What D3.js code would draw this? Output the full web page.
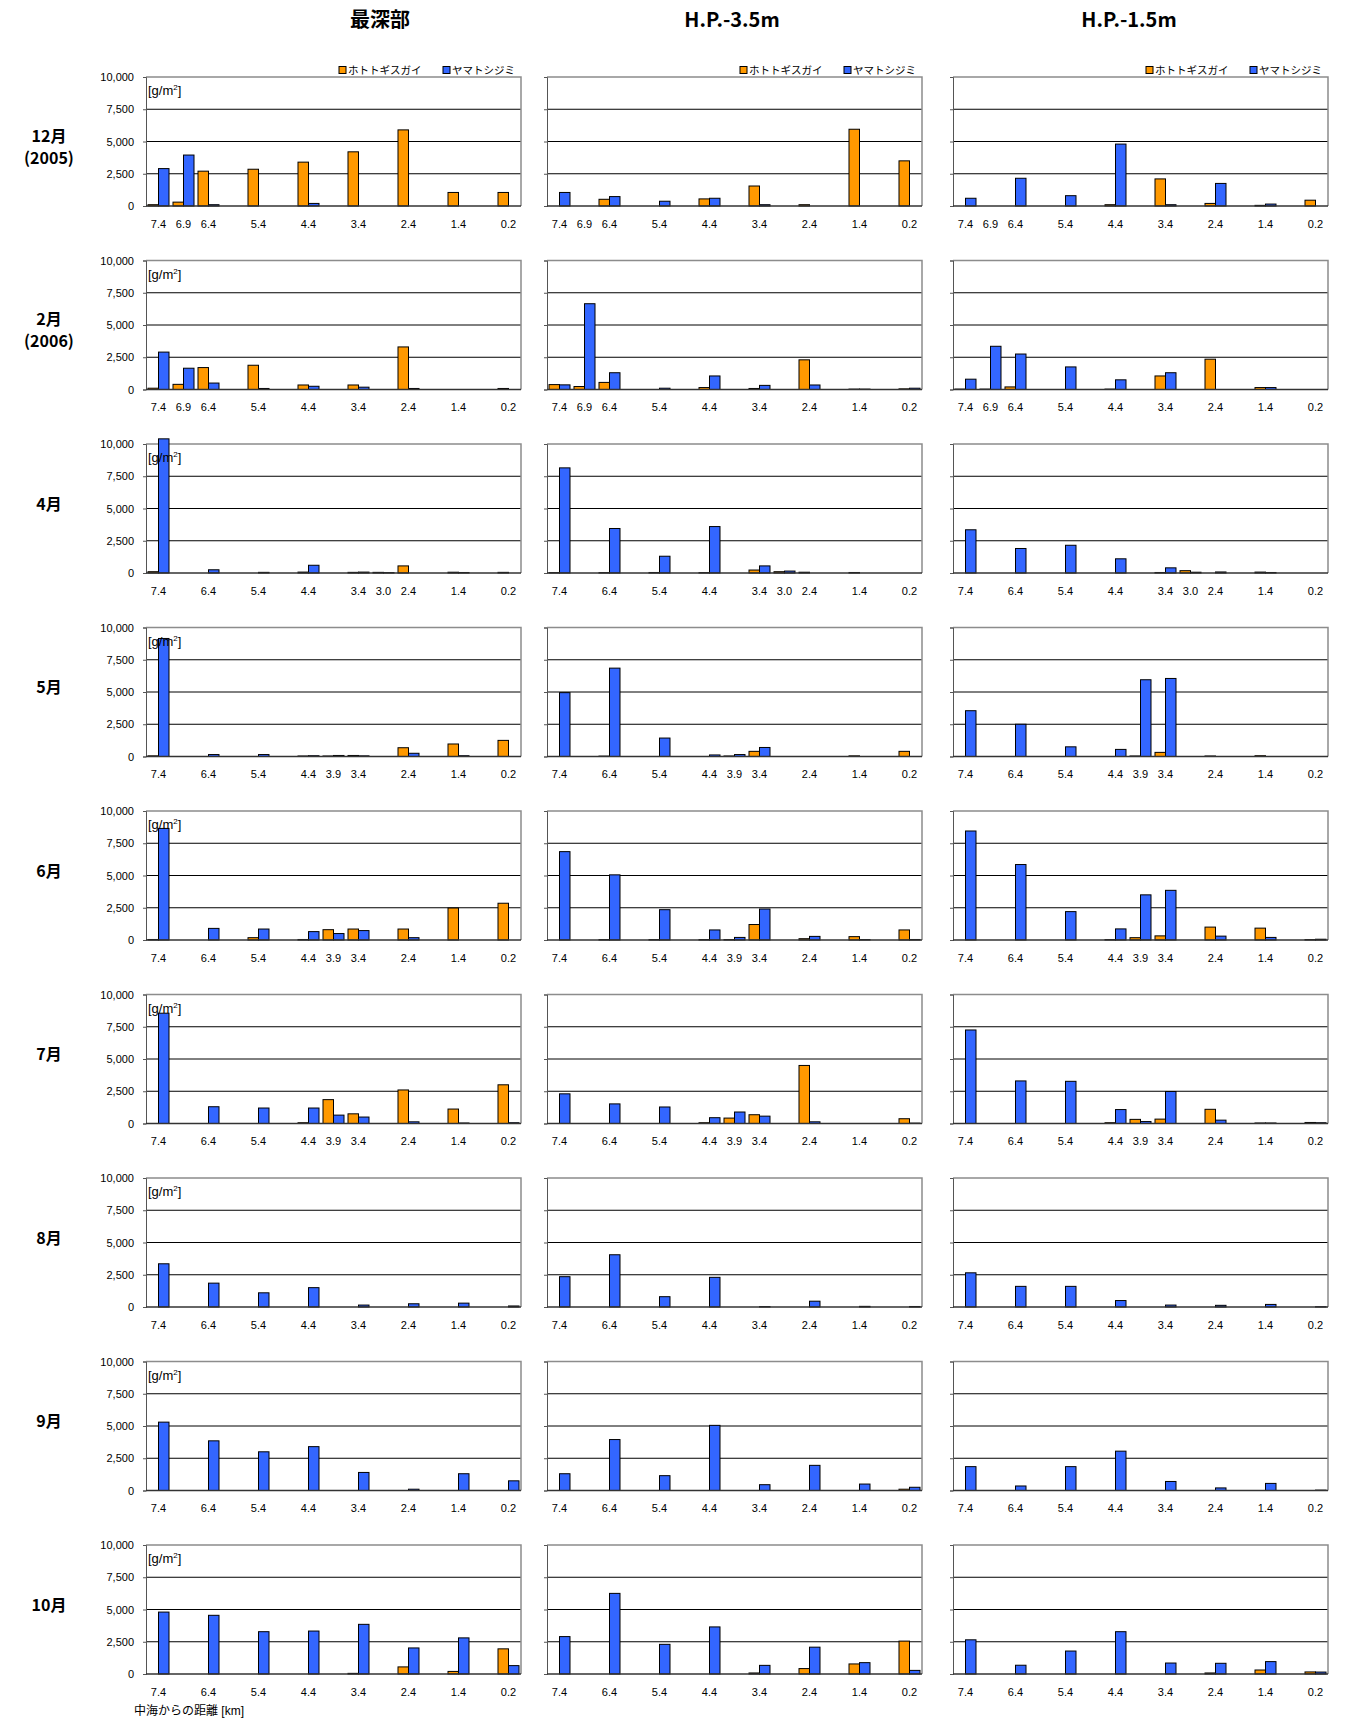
<!DOCTYPE html>
<html>
<head>
<meta charset="utf-8">
<script src="https://cdn.jsdelivr.net/npm/d3@7"></script>
<style>
  body { margin: 0; background: #fff; }
  svg text { font-family: "Liberation Sans", Arial, "Noto Sans CJK JP", sans-serif; }
</style>
</head>
<body>
<div class="chart"></div>
<script>
// distance slots on the x axis (half-km steps, blanks are unused slots)
const slots = ["7.4", "6.9", "6.4", "", "5.4", "", "4.4", "3.9", "3.4", "3.0", "2.4", "", "1.4", "", "0.2"];
const colTitles = ["最深部", "H.P.-3.5m", "H.P.-1.5m"];
const rowLabels = [["12月", "(2005)"], ["2月", "(2006)"], ["4月"], ["5月"], ["6月"], ["7月"], ["8月"], ["9月"], ["10月"]];
const seriesNames = ["ホトトギスガイ", "ヤマトシジミ"];
const yTicks = [0, 2500, 5000, 7500, 10000];

const stDec = ["7.4", "6.9", "6.4", "5.4", "4.4", "3.4", "2.4", "1.4", "0.2"];
const stApr = ["7.4", "6.4", "5.4", "4.4", "3.4", "3.0", "2.4", "1.4", "0.2"];
const stMay = ["7.4", "6.4", "5.4", "4.4", "3.9", "3.4", "2.4", "1.4", "0.2"];
const stAug = ["7.4", "6.4", "5.4", "4.4", "3.4", "2.4", "1.4", "0.2"];

// ホトトギスガイ / ヤマトシジミ, one inner array per column (最深部, -3.5m, -1.5m)
const hotoDec = [[100, 300, 2700, 2850, 3400, 4200, 5900, 1050, 1050], [0, 0, 520, 0, 550, 1550, 100, 5950, 3500], [0, 0, 0, 0, 100, 2100, 200, 50, 450]];
const yamaDec = [[2900, 3950, 100, 0, 200, 0, 0, 0, 0], [1050, 0, 730, 370, 600, 100, 0, 0, 0], [600, 0, 2150, 800, 4800, 100, 1750, 150, 0]];
const hotoFeb = [[100, 400, 1700, 1880, 350, 350, 3300, 0, 80], [380, 230, 550, 0, 150, 80, 2300, 30, 50], [30, 30, 200, 0, 30, 1050, 2350, 150, 0]];
const yamaFeb = [[2900, 1650, 500, 80, 250, 180, 80, 0, 0], [360, 6650, 1300, 100, 1050, 320, 350, 30, 100], [800, 3350, 2750, 1750, 750, 1300, 0, 150, 0]];
const hotoApr = [[100, 0, 0, 70, 50, 50, 550, 60, 50], [30, 30, 40, 30, 230, 100, 60, 40, 0], [0, 0, 0, 0, 40, 180, 0, 70, 0]];
const yamaApr = [[10400, 250, 50, 600, 70, 30, 0, 40, 0], [8150, 3450, 1300, 3600, 550, 150, 0, 0, 0], [3350, 1900, 2150, 1100, 400, 60, 80, 40, 0]];
const hotoMay = [[50, 0, 0, 40, 40, 80, 680, 970, 1250], [0, 30, 0, 0, 40, 400, 0, 50, 400], [0, 0, 0, 0, 40, 320, 40, 60, 0]];
const yamaMay = [[9150, 150, 150, 60, 80, 50, 250, 60, 0], [4950, 6850, 1430, 120, 150, 700, 0, 0, 0], [3550, 2500, 750, 550, 5950, 6050, 0, 0, 0]];
const hotoJun = [[40, 0, 180, 40, 800, 850, 850, 2480, 2850], [0, 30, 30, 30, 30, 1200, 100, 260, 780], [0, 0, 0, 30, 180, 320, 1000, 920, 30]];
const yamaJun = [[8650, 900, 850, 650, 500, 730, 180, 0, 0], [6850, 5050, 2350, 780, 200, 2400, 280, 30, 40], [8450, 5850, 2200, 860, 3500, 3850, 300, 200, 60]];
const hotoJul = [[0, 0, 0, 60, 1850, 750, 2600, 1120, 3000], [0, 0, 0, 60, 420, 680, 4500, 0, 370], [0, 0, 0, 60, 320, 340, 1100, 40, 80]];
const yamaJul = [[8550, 1300, 1200, 1200, 650, 500, 130, 40, 60], [2300, 1520, 1280, 450, 890, 570, 130, 0, 30], [7250, 3300, 3270, 1080, 150, 2480, 260, 40, 60]];
const hotoAug = [[0, 0, 0, 0, 0, 0, 0, 0], [0, 0, 0, 0, 0, 0, 0, 0], [0, 0, 0, 0, 0, 0, 0, 0]];
const yamaAug = [[3350, 1850, 1100, 1500, 150, 250, 300, 80], [2350, 4050, 800, 2300, 30, 450, 50, 40], [2650, 1600, 1600, 500, 150, 130, 200, 20]];
const hotoSep = [[0, 0, 0, 0, 0, 0, 0, 0], [0, 0, 0, 0, 0, 0, 0, 100], [0, 0, 0, 0, 0, 0, 0, 0]];
const yamaSep = [[5300, 3850, 3000, 3400, 1400, 100, 1300, 750], [1300, 3950, 1150, 5050, 450, 1950, 500, 250], [1850, 350, 1850, 3050, 700, 200, 550, 30]];
const hotoOct = [[0, 0, 0, 0, 50, 550, 200, 1950], [0, 0, 0, 0, 80, 420, 780, 2550], [0, 0, 0, 0, 0, 80, 310, 160]];
const yamaOct = [[4800, 4550, 3280, 3330, 3850, 2020, 2800, 650], [2900, 6250, 2300, 3650, 670, 2080, 880, 280], [2650, 680, 1780, 3280, 850, 830, 960, 150]];

const rows = [
  { st: stDec, hoto: hotoDec, yama: yamaDec },
  { st: stDec, hoto: hotoFeb, yama: yamaFeb },
  { st: stApr, hoto: hotoApr, yama: yamaApr },
  { st: stMay, hoto: hotoMay, yama: yamaMay },
  { st: stMay, hoto: hotoJun, yama: yamaJun },
  { st: stMay, hoto: hotoJul, yama: yamaJul },
  { st: stAug, hoto: hotoAug, yama: yamaAug },
  { st: stAug, hoto: hotoSep, yama: yamaSep },
  { st: stAug, hoto: hotoOct, yama: yamaOct }
];

const colors = ["#FF9900", "#3366FF"];
const colX = [146, 547, 953];
const titleX = [380, 732, 1129];
const plotW = 375, plotH = 129;
const rowY0 = 77, rowStep = 183.5;

const svg = d3.select(".chart").append("svg")
  .attr("width", 1354).attr("height", 1722)
  .style("background", "#fff");

const x = d3.scaleBand().domain(d3.range(slots.length)).range([0, plotW]);
const y = d3.scaleLinear().domain([0, 10000]).range([plotH, 0]);
const bw = x.bandwidth() * 0.42;
const slotOf = s => slots.indexOf(s);

// column titles
colTitles.forEach((t, c) => {
  svg.append("text")
    .attr("x", titleX[c]).attr("y", 27)
    .attr("text-anchor", "middle")
    .style("font-size", "20px").style("font-weight", "bold")
    .style("font-family", "'Noto Sans CJK JP', sans-serif")
    .text(t);
});

rows.forEach((row, r) => {
  const top = rowY0 + r * rowStep;

  // row label
  const lab = rowLabels[r];
  lab.forEach((t, i) => {
    svg.append("text")
      .attr("x", 49).attr("y", top + (lab.length == 2 ? 59 + i * 22 : 60))
      .attr("dy", "0.35em")
      .attr("text-anchor", "middle")
      .style("font-size", "16px").style("font-weight", "bold")
      .style("font-family", "'Noto Sans CJK JP', sans-serif")
      .text(t);
  });

  for (let c = 0; c < 3; c++) {
    const g = svg.append("g").attr("transform", `translate(${colX[c]},${top})`);

    // grid lines
    g.selectAll(".grid")
      .data([2500, 5000, 7500])
      .enter().append("line")
      .attr("x1", 0).attr("x2", plotW)
      .attr("y1", d => y(d)).attr("y2", d => y(d))
      .attr("stroke", "#000").attr("stroke-width", 1);

    // frame (top + right)
    g.append("path")
      .attr("d", `M0,${y(10000)}H${plotW}V${plotH}`)
      .attr("fill", "none").attr("stroke", "#8c8c8c").attr("stroke-width", 1.5);

    // y axis
    const ya = g.append("g")
      .call(d3.axisLeft(y).tickValues(yTicks).tickSize(3).tickPadding(9)
        .tickFormat(c == 0 ? d3.format(",") : ""));
    ya.select(".domain").attr("stroke", "#555");
    ya.selectAll(".tick line").attr("stroke", "#555");
    ya.selectAll("text").style("font-size", "11px").attr("fill", "#000");

    // x labels
    g.selectAll(".xl")
      .data(row.st)
      .enter().append("text")
      .attr("x", d => x(slotOf(d)) + x.bandwidth() / 2)
      .attr("y", plotH + 18).attr("dy", "0.35em")
      .attr("text-anchor", "middle")
      .style("font-size", "11px")
      .text(d => d);

    // bars
    const bars = [];
    row.st.forEach((s, i) => {
      const cx = x(slotOf(s)) + x.bandwidth() / 2;
      bars.push({ x: cx - bw, v: row.hoto[c][i], k: 0 });
      bars.push({ x: cx, v: row.yama[c][i], k: 1 });
    });
    g.selectAll(".bar")
      .data(bars.filter(d => d.v > 0))
      .enter().append("rect")
      .attr("x", d => d.x)
      .attr("y", d => y(d.v))
      .attr("width", bw)
      .attr("height", d => plotH - y(d.v))
      .attr("fill", d => colors[d.k])
      .attr("stroke", "#000").attr("stroke-width", 1);

    // baseline
    g.append("line")
      .attr("x1", 0).attr("x2", plotW)
      .attr("y1", plotH).attr("y2", plotH)
      .attr("stroke", "#333").attr("stroke-width", 1.5);

    if (c == 0) {
      const u = g.append("text").attr("x", 2).attr("y", 18).style("font-size", "13px");
      u.append("tspan").text("[g/m");
      u.append("tspan").attr("dy", -5).style("font-size", "8px").text("2");
      u.append("tspan").attr("dy", 5).text("]");
    }

    // legend only on first row
    if (r == 0) {
      const lg = g.selectAll(".lg").data(seriesNames).enter().append("g")
        .attr("transform", (d, i) => `translate(${plotW - 182 + i * 104},${-7})`);
      lg.append("rect").attr("x", 0).attr("y", -3.5).attr("width", 7).attr("height", 7)
        .attr("fill", (d, i) => colors[i]).attr("stroke", "#000");
      lg.append("text").attr("x", 9).attr("dy", "0.35em")
        .style("font-size", "10.5px")
        .style("font-family", "'Noto Sans CJK JP', sans-serif")
        .text(d => d);
    }
  }
});

svg.append("text")
  .attr("x", 134).attr("y", 1711).attr("dy", "0.35em")
  .style("font-size", "12px")
  .text("中海からの距離 [km]");
</script>
</body>
</html>
